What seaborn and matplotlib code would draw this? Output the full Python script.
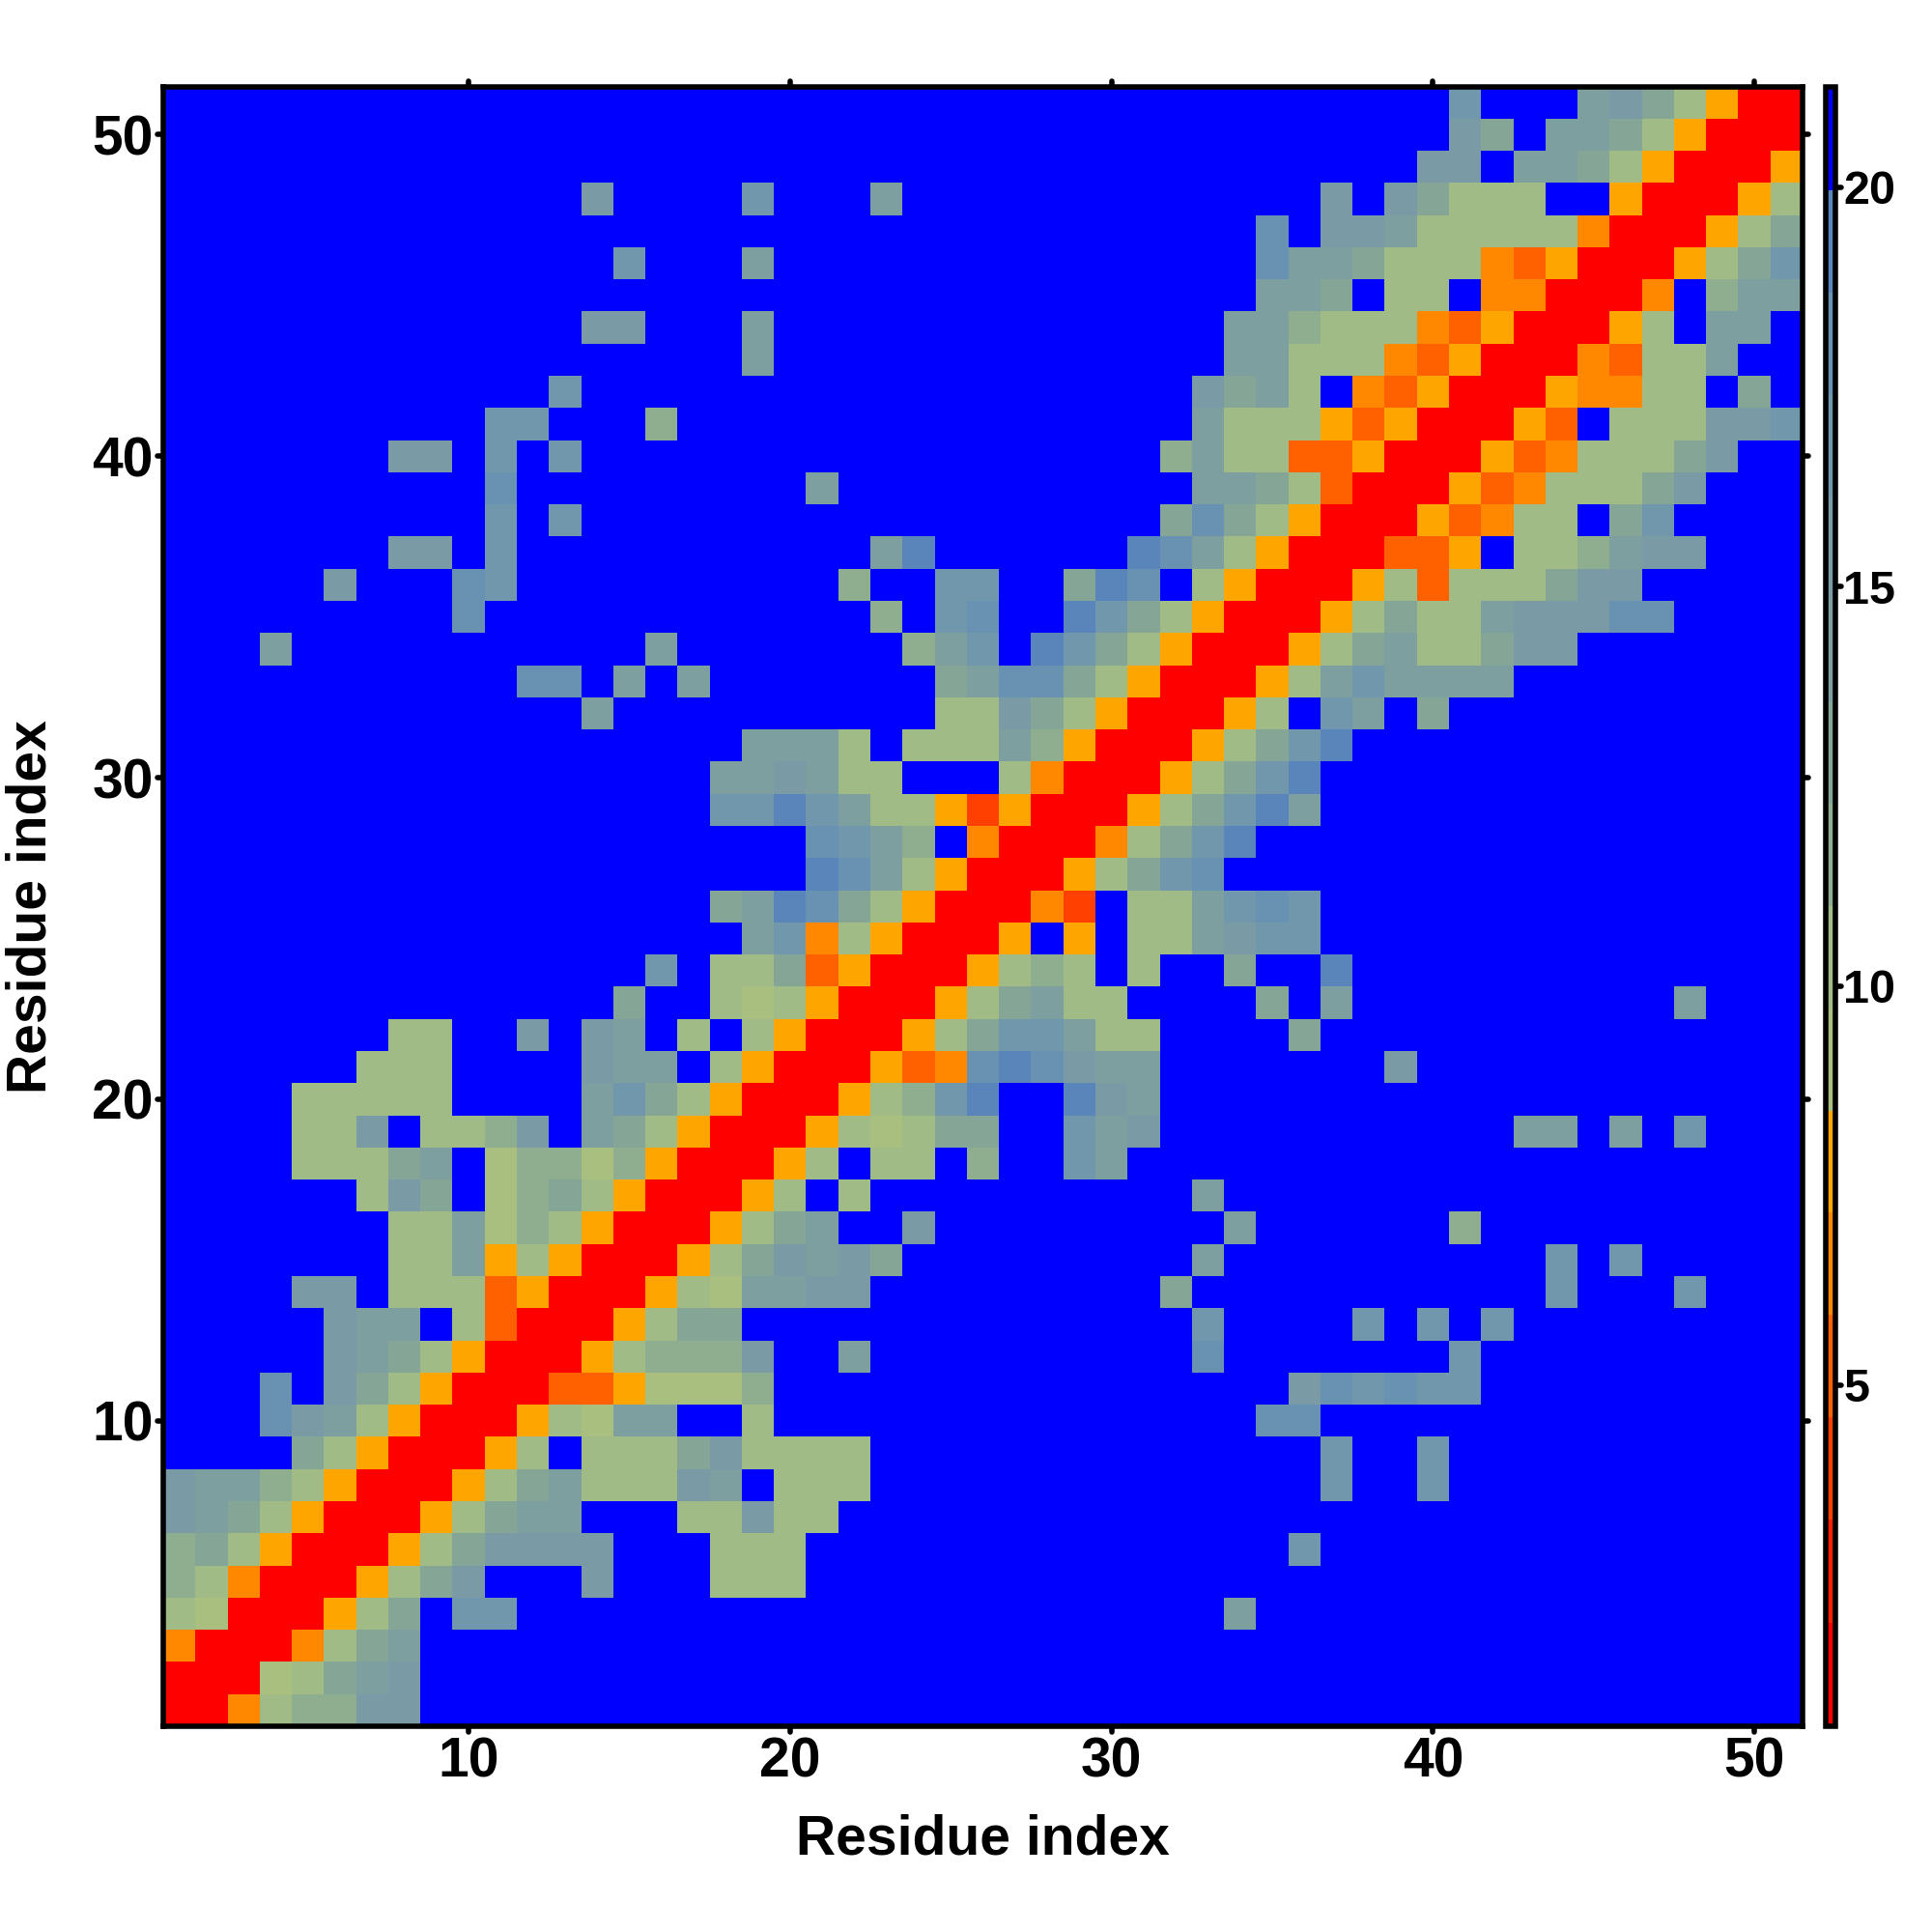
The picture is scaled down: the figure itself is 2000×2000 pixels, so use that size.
import matplotlib
matplotlib.use("Agg")
import matplotlib.pyplot as plt
from matplotlib.colors import ListedColormap, BoundaryNorm
from matplotlib.markers import MarkerStyle
import numpy as np
import pandas as pd
import seaborn as sns

# Distance bins of the colour scale (Angstrom) and their colours
level_edges = [0.75, 2.03, 3.32, 4.60, 5.88, 7.16, 8.44, 9.72, 11.0,
               12.28, 13.56, 14.84, 16.12, 17.40, 18.68, 19.96, 21.26]
level_colors = ["#ff0000", "#ff2000", "#ff4000", "#ff6000", "#ff8800", "#ffa500",
                "#a8bf80", "#a0bb85", "#8fad8f", "#85a597", "#7e9f9f", "#7a9ba5",
                "#7097ab", "#6991b1", "#5a85bb", "#0000ff"]
level_distance = [1.4, 2.7, 4.0, 5.2, 6.5, 7.8, 9.1, 10.4, 11.6, 12.9, 14.2, 15.5, 16.8, 18.0, 19.3, 20.6]
no_contact = 20.6

residues = list(range(1, 52))
tick_values = [10, 20, 30, 40, 50]
cbar_ticks = [5, 10, 15, 20]
axis_title = "Residue index"

# Each row: (first residue, one hexadecimal distance-bin code per residue); everything else is level f
row_01 = [(1, "00478 8bb".replace(" ", ""))]
row_02 = [(1, "000679ab")]
row_03 = [(1, "400047 9a".replace(" ", ""))]
row_04 = [(1, "76000579"), (10, "cc"), (34, "a")]
row_05 = [(1, "8740005 79b".replace(" ", "")), (14, "b"), (18, "777")]
row_06 = [(1, "89750005 79bbbb".replace(" ", "")), (18, "777"), (36, "c")]
row_07 = [(1, "ba97500057 9aa".replace(" ", "")), (17, "77b77")]
row_08 = [(1, "baa875000579a777ba"), (20, "777"), (37, "c"), (40, "c")]
row_09 = [(5, "97500057"), (14, "7779b7777"), (37, "c"), (40, "c")]
row_10 = [(4, "dba7500057 6aa".replace(" ", "")), (19, "7"), (35, "dd")]
row_11 = [(4, "d"), (6, "b97500033 56668".replace(" ", "")), (36, "bdcdcc")]
row_12 = [(6, "ba9750005 7888b".replace(" ", "")), (22, "a"), (33, "d"), (41, "c")]
row_13 = [(6, "baa"), (10, "73000579 9".replace(" ", "")), (33, "c"), (38, "c"), (40, "c"), (42, "c")]
row_14 = [(5, "bb"), (8, "77735000576aabb"), (32, "9"), (44, "c"), (48, "c")]
row_15 = [(8, "77a575000579bab9"), (33, "a"), (44, "c"), (46, "c")]
row_16 = [(8, "77a6875000579a"), (24, "b"), (34, "a"), (41, "8")]
row_17 = [(7, "7b9"), (11, "6897500057"), (22, "7"), (33, "a")]
row_18 = [(5, "7779a"), (11, "688685000 57".replace(" ", "")), (23, "77"), (26, "8"), (29, "ca")]
row_19 = [(5, "77b"), (9, "778b"), (14, "a9750005 76799".replace(" ", "")), (29, "cab"), (43, "aa"), (46, "a"), (48, "c")]
row_20 = [(5, "77777"), (14, "ac975000578ce"), (29, "eba")]
row_21 = [(7, "777"), (14, "baa"), (18, "750005 34dedbaa".replace(" ", "")), (39, "b")]
row_22 = [(8, "77"), (12, "b"), (14, "ba"), (17, "7"), (19, "7500057 9cca77".replace(" ", "")), (36, "9")]
row_23 = [(15, "9"), (18, "76750005 79a77".replace(" ", "")), (35, "9"), (37, "a"), (48, "a")]
row_24 = [(16, "c"), (18, "77935000 5787".replace(" ", "")), (31, "7"), (34, "9"), (37, "e")]
row_25 = [(19, "ac4750005"), (29, "5"), (31, "77abcc")]
row_26 = [(18, "9aed97500042"), (31, "77acdc")]
row_27 = [(21, "eda75000579cd")]
row_28 = [(21, "dca8"), (26, "4000479ce")]
row_29 = [(18, "cceca77525000579cea")]
row_30 = [(18, "aaba77"), (27, "74000579ce")]
row_31 = [(19, "aaa7"), (24, "777a85000579ce")]
row_32 = [(14, "a"), (25, "77b9750005 7".replace(" ", "")), (37, "ca"), (40, "9")]
row_33 = [(12, "dd"), (15, "a"), (17, "a"), (25, "9add97500057acaaaa")]
row_34 = [(4, "a"), (16, "a"), (24, "8ac"), (28, "ec975000579a779bb")]
row_35 = [(10, "d"), (23, "8"), (25, "cd"), (29, "ec975000579 77abbbdd".replace(" ", ""))]
row_36 = [(6, "b"), (10, "dc"), (22, "8"), (25, "cc"), (29, "9ed"), (33, "750005737779bb")]
row_37 = [(8, "bb"), (11, "c"), (23, "ae"), (31, "eda750003 35".replace(" ", "")), (43, "778abb")]
row_38 = [(11, "c"), (13, "c"), (32, "9d9750005 3477".replace(" ", "")), (46, "9c")]
row_39 = [(11, "d"), (21, "a"), (33, "aa973000534 7779b".replace(" ", ""))]
row_40 = [(8, "bb"), (11, "c"), (13, "c"), (32, "8a77335000534 7779b".replace(" ", ""))]
row_41 = [(11, "cc"), (16, "8"), (33, "a7775350005 3".replace(" ", "")), (46, "777bbc")]
row_42 = [(13, "c"), (33, "b9a7"), (38, "435000544 77".replace(" ", "")), (50, "9")]
row_43 = [(19, "a"), (34, "aa7774350004377a")]
row_44 = [(14, "bb"), (19, "a"), (34, "aa877743500057"), (49, "aa")]
row_45 = [(19, "a") if False else (35, "aa9"), (39, "77"), (42, "440004"), (49, "8aa")]
row_46 = [(15, "c"), (19, "a"), (35, "daa97774350005 79c".replace(" ", ""))]
row_47 = [(35, "d"), (37, "bba77777400057 9".replace(" ", ""))]
row_48 = [(14, "b"), (19, "c"), (23, "a"), (37, "b"), (39, "b9777"), (46, "500057")]
row_49 = [(40, "bb"), (43, "aa9750005")]
row_50 = [(41, "b9"), (44, "aa975000")]
row_51 = [(41, "c"), (45, "ab97500")]

all_rows = [row_01, row_02, row_03, row_04, row_05, row_06, row_07, row_08, row_09, row_10,
            row_11, row_12, row_13, row_14, row_15, row_16, row_17, row_18, row_19, row_20,
            row_21, row_22, row_23, row_24, row_25, row_26, row_27, row_28, row_29, row_30,
            row_31, row_32, row_33, row_34, row_35, row_36, row_37, row_38, row_39, row_40,
            row_41, row_42, row_43, row_44, row_45, row_46, row_47, row_48, row_49, row_50,
            row_51]

table = pd.DataFrame(no_contact, index=residues, columns=residues, dtype=float)
for res_y, segments in zip(residues, all_rows):
    for first, codes in segments:
        for offset, code in enumerate(codes):
            table.loc[res_y, first + offset] = level_distance[int(code, 16)]

sns.set_theme(style="white")
plt.rcParams["font.family"] = ["Liberation Sans", "DejaVu Sans"]
plt.rcParams["font.weight"] = "bold"

fig = plt.figure(figsize=(20, 20), dpi=100, facecolor="white")
ax = fig.add_axes([169 / 2000, (2000 - 1787) / 2000, (1866 - 169) / 2000, (1787 - 89.5) / 2000])
cax = fig.add_axes([1889.5 / 2000, (2000 - 1787) / 2000, 11 / 2000, (1787 - 89.5) / 2000])

cmap = ListedColormap(level_colors)
norm = BoundaryNorm(level_edges, cmap.N)
sns.heatmap(table, ax=ax, cbar_ax=cax, cmap=cmap, norm=norm, square=False,
            xticklabels=False, yticklabels=False, linewidths=0,
            cbar_kws={"ticks": cbar_ticks, "spacing": "proportional", "drawedges": False})
ax.set_ylim(0, len(residues))

LW = 4.0
for side in ax.spines:
    ax.spines[side].set_visible(True)
    ax.spines[side].set_linewidth(LW)
    ax.spines[side].set_color("black")

ax.set_xticks([v - 0.5 for v in tick_values], labels=[str(v) for v in tick_values])
ax.set_yticks([v - 0.5 for v in tick_values], labels=[str(v) for v in tick_values])
ax.tick_params(axis="both", which="major", length=4.5, width=LW, color="black",
               top=True, right=True, bottom=True, left=True,
               labelsize=41, labelcolor="black", pad=3)
ax.tick_params(axis="x", rotation=0)
ax.tick_params(axis="y", rotation=0)
for lab in ax.get_xticklabels() + ax.get_yticklabels():
    lab.set_fontweight("bold")

ax.set_xlabel(axis_title, fontsize=41, fontweight="bold", color="black")
ax.set_ylabel(axis_title, fontsize=41, fontweight="bold", color="black")
ax.xaxis.set_label_coords(0.5, -0.0535)
ax.yaxis.set_label_coords(-0.0645, 0.5)

cbar = ax.collections[0].colorbar
cbar.ax.set_ylim(level_edges[0] - 0.02, level_edges[-1])
cbar.outline.set_visible(True)
cbar.outline.set_linewidth(LW)
cbar.outline.set_edgecolor("black")
cbar.ax.tick_params(axis="y", length=4.5, width=LW, color="black", labelsize=35,
                    labelcolor="black", pad=1, right=True, left=False)
cbar.ax.minorticks_off()
for lab in cbar.ax.get_yticklabels():
    lab.set_fontweight("bold")

for a in (ax, cbar.ax):
    for t in a.xaxis.get_major_ticks() + a.yaxis.get_major_ticks():
        for line in (t.tick1line, t.tick2line):
            line.set_marker(MarkerStyle(line.get_marker(), capstyle="round"))

fig.savefig("out.png", dpi=100, facecolor="white")
